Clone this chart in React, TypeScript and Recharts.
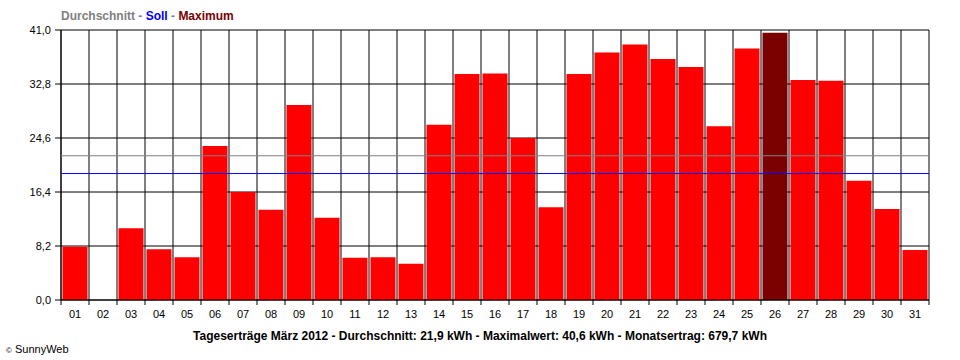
import { Bar, BarChart, CartesianGrid, Cell, ReferenceLine, XAxis, YAxis } from 'recharts'

const DAYS = [
  '01', '02', '03', '04', '05', '06', '07', '08', '09', '10',
  '11', '12', '13', '14', '15', '16', '17', '18', '19', '20',
  '21', '22', '23', '24', '25', '26', '27', '28', '29', '30', '31',
]

// daily yield in kWh, March 2012
const YIELDS = [
  8.1, 0, 10.9, 7.7, 6.5, 23.4, 16.4, 13.7, 29.6, 12.5,
  6.4, 6.5, 5.5, 26.6, 34.3, 34.4, 24.6, 14.1, 34.3, 37.6,
  38.8, 36.6, 35.4, 26.4, 38.2, 40.6, 33.4, 33.3, 18.1, 13.8, 7.6,
]

const AVERAGE = 21.9
const TARGET = 19.2
const Y_TICKS = [0, 8.2, 16.4, 24.6, 32.8, 41]
// category boundaries for grid lines and tick marks
const BOUNDS = Array.from({ length: DAYS.length + 1 }, (_, i) => i)

const FONT = '"Liberation Sans", Arial, sans-serif'

const NoLabel = () => <g />

export default function App() {
  const data = DAYS.map((day, i) => ({ day, slot: i + 0.5, kwh: YIELDS[i] }))
  const maxIdx = YIELDS.indexOf(Math.max(...YIELDS))

  return (
    <div
      style={{
        position: 'absolute',
        left: 0,
        top: 0,
        width: 960,
        height: 360,
        background: '#fff',
        fontFamily: FONT,
      }}
    >
      <BarChart
        width={960}
        height={360}
        data={data}
        margin={{ top: 30, right: 31, left: 11, bottom: 30 }}
        barCategoryGap={1.5}
      >
        <CartesianGrid stroke="#000" strokeOpacity={1} />
        {/* numeric axis: boundary ticks + vertical grid */}
        <XAxis
          dataKey="slot"
          type="number"
          domain={[0, DAYS.length]}
          ticks={BOUNDS}
          interval={0}
          allowDataOverflow
          height={1}
          tick={<NoLabel />}
          tickSize={5}
          tickLine={{ stroke: '#000' }}
          axisLine={{ stroke: '#000' }}
        />
        <XAxis
          xAxisId="c"
          dataKey="day"
          height={29}
          interval={0}
          tickLine={false}
          tickSize={6}
          tickMargin={3}
          axisLine={false}
          tick={{ fill: '#000', fontSize: 11, fontFamily: FONT }}
        />
        <YAxis
          width={50}
          domain={[0, 41]}
          ticks={Y_TICKS}
          interval={0}
          tickSize={6}
          tickMargin={4}
          tickLine={{ stroke: '#000' }}
          axisLine={{ stroke: '#000' }}
          tick={{ fill: '#000', fontSize: 11, fontFamily: FONT }}
          tickFormatter={(v: number) => v.toFixed(1).replace('.', ',')}
        />
        <Bar dataKey="kwh" xAxisId="c" isAnimationActive={false}>
          {data.map((_, i) => (
            <Cell key={i} fill={i === maxIdx ? '#7b0000' : '#ff0000'} />
          ))}
        </Bar>
        <ReferenceLine y={AVERAGE} stroke="#808080" zIndex={700} />
        <ReferenceLine y={TARGET} stroke="#0000ff" zIndex={700} />
      </BarChart>

      <div
        style={{
          position: 'absolute',
          left: 61,
          top: 9,
          fontSize: 12,
          fontWeight: 'bold',
          color: '#808080',
          whiteSpace: 'nowrap',
        }}
      >
        Durchschnitt - <span style={{ color: '#0000ff' }}>Soll</span> -{' '}
        <span style={{ color: '#7b0000' }}>Maximum</span>
      </div>
      <div
        style={{
          position: 'absolute',
          left: 0,
          width: 960,
          top: 329,
          textAlign: 'center',
          fontSize: 12,
          fontWeight: 'bold',
          color: '#000',
          whiteSpace: 'nowrap',
        }}
      >
        Tageserträge März 2012 - Durchschnitt: 21,9 kWh - Maximalwert: 40,6 kWh - Monatsertrag: 679,7 kWh
      </div>
      <div
        style={{
          position: 'absolute',
          left: 6,
          top: 343,
          fontSize: 11,
          color: '#000',
          whiteSpace: 'nowrap',
        }}
      >
        <span style={{ fontSize: 8 }}>©</span> SunnyWeb
      </div>
    </div>
  )
}
